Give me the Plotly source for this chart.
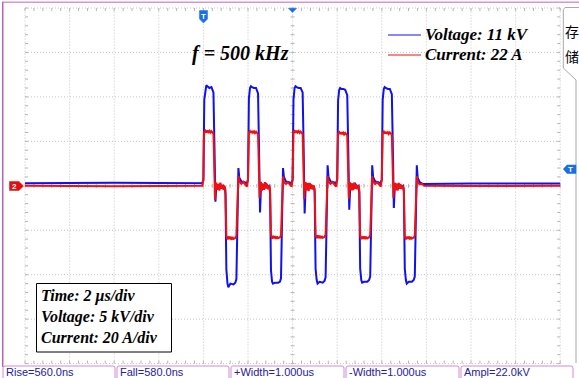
import plotly.graph_objects as go

# ---------------- data ----------------
# time in microseconds (2 us/div), voltage in kV (5 kV/div), current in A (20 A/div)
t_voltage_us = [
    -12.0, -8.0, -4.05,
    -4.00, -3.96, -3.91, -3.87, -3.82, -3.73, -3.64, -3.60, -3.55, -3.51, -3.48, -3.46, -3.42,
    -3.37, -3.28, -3.19, -3.10, -3.04, -3.01, -2.97, -2.92, -2.88, -2.79, -2.65, -2.57, -2.52,
    -2.48, -2.45, -2.43, -2.39, -2.30, -2.16, -2.05,
    -2.00, -1.96, -1.91, -1.87, -1.82, -1.73, -1.64, -1.60, -1.55, -1.51, -1.48, -1.46, -1.42,
    -1.37, -1.28, -1.19, -1.10, -1.04, -1.01, -0.97, -0.92, -0.88, -0.79, -0.65, -0.57, -0.52,
    -0.48, -0.45, -0.43, -0.39, -0.30, -0.16, -0.05,
    0.00, 0.04, 0.09, 0.13, 0.18, 0.27, 0.36, 0.40, 0.45, 0.49, 0.52, 0.54, 0.58,
    0.63, 0.72, 0.81, 0.90, 0.96, 0.99, 1.03, 1.08, 1.12, 1.21, 1.35, 1.43, 1.48,
    1.52, 1.55, 1.57, 1.61, 1.70, 1.84, 1.95,
    2.00, 2.04, 2.09, 2.13, 2.18, 2.27, 2.36, 2.40, 2.45, 2.49, 2.52, 2.54, 2.58,
    2.63, 2.72, 2.81, 2.90, 2.96, 2.99, 3.03, 3.08, 3.12, 3.21, 3.35, 3.43, 3.48,
    3.52, 3.55, 3.57, 3.61, 3.70, 3.84, 3.95,
    4.00, 4.04, 4.09, 4.13, 4.18, 4.27, 4.36, 4.40, 4.45, 4.49, 4.52, 4.54, 4.58,
    4.63, 4.72, 4.81, 4.90, 4.96, 4.99, 5.03, 5.08, 5.12, 5.21, 5.35, 5.43, 5.48,
    5.52, 5.55, 5.57, 5.61, 5.70, 5.84, 8.00, 12.0,
]
voltage_kV = [
    0.3, 0.35, 0.3,
    0.7, 9.7, 11.1, 11.3, 11.2, 11.0, 11.1, 10.9, 10.5, 5.2, -1.0, -1.8, 0.1,
    -0.4, 0.2, -0.2, 0.0, -0.2, -1.0, -9.4, -11.0, -11.4, -11.0, -11.1, -10.9, -10.5,
    -4.9, 0.7, 2.0, 0.9, 0.5, 0.4, 0.3,
    0.7, 9.8, 11.0, 11.2, 11.1, 11.0, 11.0, 10.8, 10.4, 4.8, -2.0, -3.0, -0.3,
    0.2, -0.3, 0.2, -0.1, 0.0, -0.9, -9.5, -10.8, -11.0, -10.9, -10.9, -10.8, -10.4,
    -4.8, 0.8, 2.0, 1.0, 0.5, 0.4, 0.3,
    0.7, 9.7, 11.0, 11.2, 11.1, 11.0, 11.0, 10.8, 10.5, 5.0, -2.0, -3.1, -0.5,
    0.3, -0.3, 0.1, -0.2, 0.0, -0.8, -9.3, -10.6, -11.0, -10.8, -10.9, -10.7, -10.3,
    -4.8, 0.8, 2.3, 1.0, 0.5, 0.4, 0.3,
    0.7, 9.6, 10.8, 11.0, 10.9, 10.9, 10.8, 10.6, 10.2, 5.0, -1.8, -2.7, -0.4,
    0.2, -0.3, 0.2, -0.1, 0.0, -0.8, -9.3, -10.6, -10.9, -10.8, -10.8, -10.6, -10.2,
    -4.7, 0.8, 2.3, 1.0, 0.5, 0.4, 0.3,
    0.7, 9.7, 10.9, 11.1, 11.0, 10.9, 10.9, 10.7, 10.3, 5.0, -1.6, -2.5, -0.3,
    0.2, -0.3, 0.1, -0.1, 0.0, -0.8, -9.3, -10.6, -11.0, -10.8, -10.8, -10.6, -10.2,
    -4.7, 0.8, 2.3, 0.9, 0.4, 0.2, 0.25, 0.25,
]

t_current_us = [
    -12.0, -8.0, -4.05,
    -4.00, -3.98, -3.96, -3.91, -3.87, -3.82, -3.78, -3.73, -3.69, -3.64, -3.60, -3.55, -3.53,
    -3.51, -3.48, -3.46, -3.42, -3.37, -3.33, -3.28, -3.24, -3.19, -3.15, -3.10, -3.06, -3.01,
    -2.99, -2.97, -2.92, -2.88, -2.83, -2.79, -2.74, -2.70, -2.65, -2.57, -2.52, -2.48, -2.45,
    -2.43, -2.39, -2.30, -2.21, -2.12, -2.05,
    -2.00, -1.98, -1.96, -1.91, -1.87, -1.82, -1.78, -1.73, -1.69, -1.64, -1.60, -1.55, -1.53,
    -1.51, -1.48, -1.46, -1.42, -1.37, -1.33, -1.28, -1.24, -1.19, -1.15, -1.10, -1.06, -1.01,
    -0.99, -0.97, -0.92, -0.88, -0.83, -0.79, -0.74, -0.70, -0.65, -0.57, -0.52, -0.48, -0.45,
    -0.43, -0.39, -0.30, -0.21, -0.12, -0.05,
    0.00, 0.02, 0.04, 0.09, 0.13, 0.18, 0.22, 0.27, 0.31, 0.36, 0.40, 0.45, 0.47,
    0.49, 0.52, 0.54, 0.58, 0.63, 0.67, 0.72, 0.76, 0.81, 0.85, 0.90, 0.94, 0.99,
    1.01, 1.03, 1.08, 1.12, 1.17, 1.21, 1.26, 1.30, 1.35, 1.43, 1.48, 1.52, 1.55,
    1.57, 1.61, 1.70, 1.79, 1.88, 1.95,
    2.00, 2.02, 2.04, 2.09, 2.13, 2.18, 2.22, 2.27, 2.31, 2.36, 2.40, 2.45, 2.47,
    2.49, 2.52, 2.54, 2.58, 2.63, 2.67, 2.72, 2.76, 2.81, 2.85, 2.90, 2.94, 2.99,
    3.01, 3.03, 3.08, 3.12, 3.17, 3.21, 3.26, 3.30, 3.35, 3.43, 3.48, 3.52, 3.55,
    3.57, 3.61, 3.70, 3.79, 3.88, 3.95,
    4.00, 4.02, 4.04, 4.09, 4.13, 4.18, 4.22, 4.27, 4.31, 4.36, 4.40, 4.45, 4.47,
    4.49, 4.52, 4.54, 4.58, 4.63, 4.67, 4.72, 4.76, 4.81, 4.85, 4.90, 4.94, 4.99,
    5.01, 5.03, 5.08, 5.12, 5.17, 5.21, 5.26, 5.30, 5.35, 5.43, 5.48, 5.52, 5.55,
    5.57, 5.61, 5.70, 5.80, 5.90, 8.00, 12.0,
]
current_A = [
    0.0, -0.2, 0.0,
    2.7, 20.7, 24.3, 24.8, 24.0, 24.9, 24.1, 24.7, 23.9, 24.6, 24.2, 23.4, 16.2,
    -1.8, -6.3, -1.8, 1.4, -1.8, 0.9, -2.2, 1.4, -1.4, 0.5, -1.8, 0.0, -1.8,
    -13.0, -22.5, -24.2, -22.8, -24.0, -22.9, -24.3, -23.0, -23.9, -23.5, -22.5, -10.8, 1.4,
    4.5, 1.8, 0.9, 1.8, 0.4, -0.4,
    2.7, 20.0, 24.0, 24.6, 23.8, 24.7, 23.9, 24.5, 23.7, 24.4, 23.9, 23.2, 15.5,
    -2.0, -5.5, -1.0, 1.8, -2.2, 1.0, -1.8, 1.6, -1.2, 0.8, -1.6, 0.2, -1.5,
    -12.5, -22.0, -23.8, -22.5, -23.6, -22.6, -23.9, -22.8, -23.6, -23.2, -22.2, -10.5, 1.2,
    4.2, 1.6, 0.8, 1.6, 0.3, -0.3,
    2.7, 20.5, 24.2, 24.7, 23.9, 24.8, 24.0, 24.6, 23.8, 24.4, 24.0, 23.3, 15.8,
    -1.8, -6.0, -1.5, 1.6, -2.0, 1.2, -2.4, 1.3, -1.5, 0.6, -1.7, 0.1, -1.6,
    -12.8, -22.0, -23.6, -22.3, -23.5, -22.4, -23.7, -22.6, -23.4, -23.0, -22.0, -10.5, 1.3,
    4.4, 1.7, 0.9, 1.7, 0.4, -0.4,
    2.7, 20.0, 23.6, 24.2, 23.3, 24.1, 23.2, 23.9, 23.1, 23.8, 23.3, 22.7, 15.2,
    -1.8, -5.8, -1.3, 1.5, -2.1, 1.1, -2.0, 1.4, -1.3, 0.7, -1.6, 0.2, -1.6,
    -12.6, -22.3, -24.0, -22.8, -23.8, -22.7, -24.0, -22.9, -23.7, -23.2, -22.2, -10.4, 1.3,
    4.5, 1.8, 0.8, 1.6, 0.4, -0.3,
    2.7, 20.2, 23.8, 24.4, 23.5, 24.3, 23.4, 24.1, 23.3, 24.0, 23.5, 22.9, 15.4,
    -1.7, -5.5, -1.2, 1.4, -2.0, 1.0, -2.1, 1.3, -1.4, 0.6, -1.5, 0.1, -1.5,
    -12.6, -22.4, -24.1, -22.9, -23.9, -22.8, -24.1, -23.0, -23.8, -23.3, -22.3, -10.6, 1.2,
    4.3, 1.5, 0.6, 0.9, 0.0, -0.1, 0.0,
]

# scope settings (scale per division)
US_PER_DIV = 2.0
KV_PER_DIV = 5.0
A_PER_DIV = 20.0

title_text = "<i>f</i> = 500 kHz"
legend_labels = ["Voltage: 11 kV", "Current: 22 A"]
info_lines = ["Time: 2 μs/div", "Voltage: 5 kV/div", "Current: 20 A/div"]
measurements = ["Rise=560.0ns", "Fall=580.0ns", "+Width=1.000us", "-Width=1.000us", "Ampl=22.0kV"]
side_labels = ["存", "储"]

# ---------------- geometry ----------------
W, H = 579, 378
X0, DIV_X = 292.6, 44.6      # screen pixel of t=0 and pixels per division
Y0, DIV_Y = 185.8, 44.45

def x_t(xp):
    return (xp - X0) / DIV_X * US_PER_DIV

def y_d(yp):
    return (Y0 - yp) / DIV_Y

def px(x):
    return x / W

def py(y):
    return 1 - y / H

BLUE = "#1010f0"
RED = "#f01010"
GRID = "#c4c4c4"
TICK = "#b4b4b4"
SERIF = "Liberation Serif"

fig = go.Figure()

# graticule ticks (one trace, minor ticks every 1/5 division)
tx, ty = [], []
hx = 3 / DIV_X * US_PER_DIV
hy = 3 / DIV_Y
cx = 2 / DIV_X * US_PER_DIV
cy = 2 / DIV_Y
for k in range(-30, 31):
    xv = k * 0.2 * US_PER_DIV
    tx += [xv, xv, None, xv, xv, None, xv, xv, None]
    ty += [4, 4 - hy, None, -4, -4 + hy, None, -cy, cy, None]
for k in range(-20, 21):
    yv = k * 0.2
    tx += [-12, -12 + hx, None, 12, 12 - hx, None, -cx, cx, None]
    ty += [yv, yv, None, yv, yv, None, yv, yv, None]
fig.add_trace(go.Scatter(x=tx, y=ty, mode="lines", line=dict(color=TICK, width=1),
                         hoverinfo="skip", showlegend=False))

# waveforms
fig.add_trace(go.Scatter(x=t_voltage_us, y=[v / KV_PER_DIV for v in voltage_kV], mode="lines",
                         line=dict(color=BLUE, width=2), hoverinfo="skip", showlegend=False))
fig.add_trace(go.Scatter(x=t_current_us, y=[i / A_PER_DIV for i in current_A], mode="lines",
                         line=dict(color=RED, width=2), hoverinfo="skip", showlegend=False))

shapes = []
# grid lines (dotted)
for k in range(-6, 7):
    shapes.append(dict(type="line", xref="x", yref="y", x0=k * US_PER_DIV, x1=k * US_PER_DIV,
                       y0=-4, y1=4, line=dict(color=GRID, width=1, dash="1px,2px"), layer="below"))
for k in range(-4, 5):
    shapes.append(dict(type="line", xref="x", yref="y", x0=-12, x1=12, y0=k, y1=k,
                       line=dict(color=GRID, width=1, dash="1px,2px"), layer="below"))

def path(points):
    s = "M " + " L ".join(f"{px(a):.5f},{py(b):.5f}" for a, b in points) + " Z"
    return s

# outer frame lines
shapes.append(dict(type="line", xref="paper", yref="paper", x0=px(2), x1=px(579), y0=py(2.3), y1=py(2.3),
                   line=dict(color="#d498d4", width=1.5)))
shapes.append(dict(type="line", xref="paper", yref="paper", x0=px(2.7), x1=px(2.7), y0=py(2), y1=py(367),
                   line=dict(color="#b462b4", width=1.5)))

# right side panel
shapes.append(dict(type="path", xref="paper", yref="paper",
                   path=f"M {px(579)},{py(7.5)} L {px(565)},{py(7.5)} L {px(563.3)},{py(9.5)} "
                        f"L {px(563.3)},{py(68)} L {px(576)},{py(80)} L {px(576)},{py(363)}",
                   line=dict(color="#a8a8a8", width=1)))

# trigger / channel markers
MBLUE = "#1a6ee6"
shapes.append(dict(type="path", xref="paper", yref="paper",
                   path=path([(199.5, 10.5), (207.5, 10.5), (207.5, 19), (203.5, 23), (199.5, 19)]),
                   fillcolor=MBLUE, line=dict(color=MBLUE, width=0.5)))
shapes.append(dict(type="path", xref="paper", yref="paper",
                   path=path([(288.3, 8.3), (296.7, 8.3), (292.5, 12.6)]),
                   fillcolor=MBLUE, line=dict(color=MBLUE, width=0.5)))
shapes.append(dict(type="path", xref="paper", yref="paper",
                   path=path([(563.3, 169), (567, 165), (576, 165), (576, 173.5), (567, 173.5)]),
                   fillcolor=MBLUE, line=dict(color=MBLUE, width=0.5)))
shapes.append(dict(type="path", xref="paper", yref="paper",
                   path=path([(9.5, 181.5), (19, 181.5), (23.5, 186), (19, 190.5), (9.5, 190.5)]),
                   fillcolor="#e01010", line=dict(color="#e01010", width=0.5)))

# legend lines
shapes.append(dict(type="line", xref="paper", yref="paper", x0=px(388), x1=px(421), y0=py(35), y1=py(35),
                   line=dict(color=BLUE, width=1)))
shapes.append(dict(type="line", xref="paper", yref="paper", x0=px(388), x1=px(421), y0=py(55), y1=py(55),
                   line=dict(color=RED, width=1)))

# info box
shapes.append(dict(type="rect", xref="paper", yref="paper", x0=px(36.5), x1=px(171.5), y0=py(352), y1=py(283.5),
                   fillcolor="white", line=dict(color="black", width=1)))

# measurement tabs
tabs = [(3, 115), (117, 229), (231, 344), (346, 459), (461, 573)]
for a, b in tabs:
    shapes.append(dict(type="path", xref="paper", yref="paper",
                       path=f"M {px(a)},{py(380)} L {px(a)},{py(368)} Q {px(a)},{py(366)} {px(a + 2)},{py(366)} "
                            f"L {px(b - 2)},{py(366)} Q {px(b)},{py(366)} {px(b)},{py(368)} L {px(b)},{py(380)}",
                       line=dict(color="#d28cd2", width=1)))

annotations = []
def ann(text, x, y, size, color="black", family=SERIF, xanchor="left", bold=True, italic=True):
    annotations.append(dict(text=text, x=px(x), y=py(y), xref="paper", yref="paper",
                            xanchor=xanchor, yanchor="middle", showarrow=False,
                            font=dict(family=family, size=size, color=color,
                                      weight="bold" if bold else "normal",
                                      style="italic" if italic else "normal")))

ann(title_text, 190, 54, 20)
ann(legend_labels[0], 423, 35, 17)
ann(legend_labels[1], 423, 55, 17)
for line, yy in zip(info_lines, [296, 316.5, 337]):
    ann(line, 38.5, yy, 16)
for (a, b), m in zip(tabs, measurements):
    ann(m, a + 1, 371.5, 11, color="#22229a", family="Liberation Sans", bold=False, italic=False)
ann(side_labels[0], 571.5, 31, 14, family="Noto Sans CJK SC", xanchor="center", bold=False, italic=False)
ann(side_labels[1], 571.5, 56, 14, family="Noto Sans CJK SC", xanchor="center", bold=False, italic=False)
# marker letters
ann("T", 203.5, 16, 8, color="white", family="Liberation Sans", xanchor="center", italic=False)
ann("T", 570.5, 169.3, 8, color="white", family="Liberation Sans", xanchor="center", italic=False)
ann("2", 15, 186, 8, color="white", family="Liberation Sans", xanchor="center", italic=False)

fig.update_layout(
    width=W, height=H, margin=dict(l=0, r=0, t=0, b=0),
    paper_bgcolor="white", plot_bgcolor="white",
    xaxis=dict(range=[x_t(0), x_t(W)], visible=False, fixedrange=True),
    yaxis=dict(range=[y_d(H), y_d(0)], visible=False, fixedrange=True),
    shapes=shapes, annotations=annotations, showlegend=False,
)

fig.write_html("out.html", config={"displayModeBar": False},
               post_script="document.body.style.margin='0';document.body.style.overflow='hidden';")
